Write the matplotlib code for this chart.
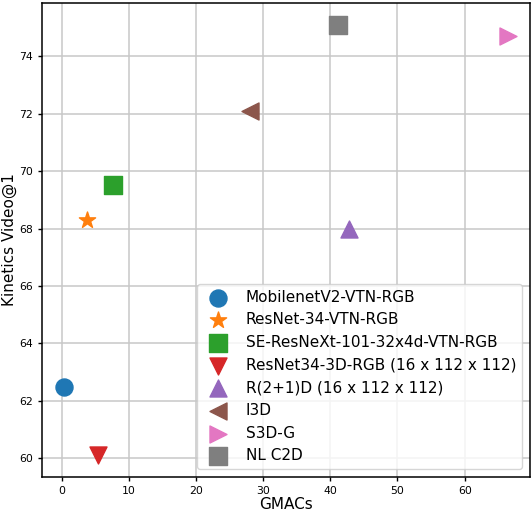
import numpy as np
from matplotlib import pyplot as plt

# models, compute cost (GMACs) and Kinetics top-1
names = ['MobilenetV2-VTN-RGB', 'ResNet-34-VTN-RGB', 'SE-ResNeXt-101-32x4d-VTN-RGB',
         'ResNet34-3D-RGB (16 x 112 x 112)', 'R(2+1)D (16 x 112 x 112)',
         'I3D', 'S3D-G', 'NL C2D']
gmacs = [0.4, 3.8, 7.7, 5.5, 42.8, 28.0, 66.4, 41.1]
top1 = [62.5, 68.3, 69.5, 60.1, 68.0, 72.1, 74.7, 75.1]
markers = ['o', '*', 's', 'v', '^', '<', '>', 's']

fig = plt.figure(figsize=(5.32, 5.14), dpi=100)
ax = fig.add_axes([0.079, 0.072, 0.917, 0.922])

for i, name in enumerate(names):
    ax.scatter(gmacs[i], top1[i], s=150, marker=markers[i], label=name, zorder=3)

ax.grid(True, color='#c8c8c8', linewidth=1.1)
ax.set_axisbelow(True)
for sp in ax.spines.values():
    sp.set_linewidth(1.1)
ax.tick_params(labelsize=7.8, width=1.0, length=3)
ax.set_xlabel('GMACs', fontsize=11, labelpad=1)
ax.set_ylabel('Kinetics Video@1', fontsize=11, labelpad=1.5)
ax.legend(loc='lower right', fontsize=11, borderaxespad=0.5)

plt.savefig('out.png', dpi=100)
